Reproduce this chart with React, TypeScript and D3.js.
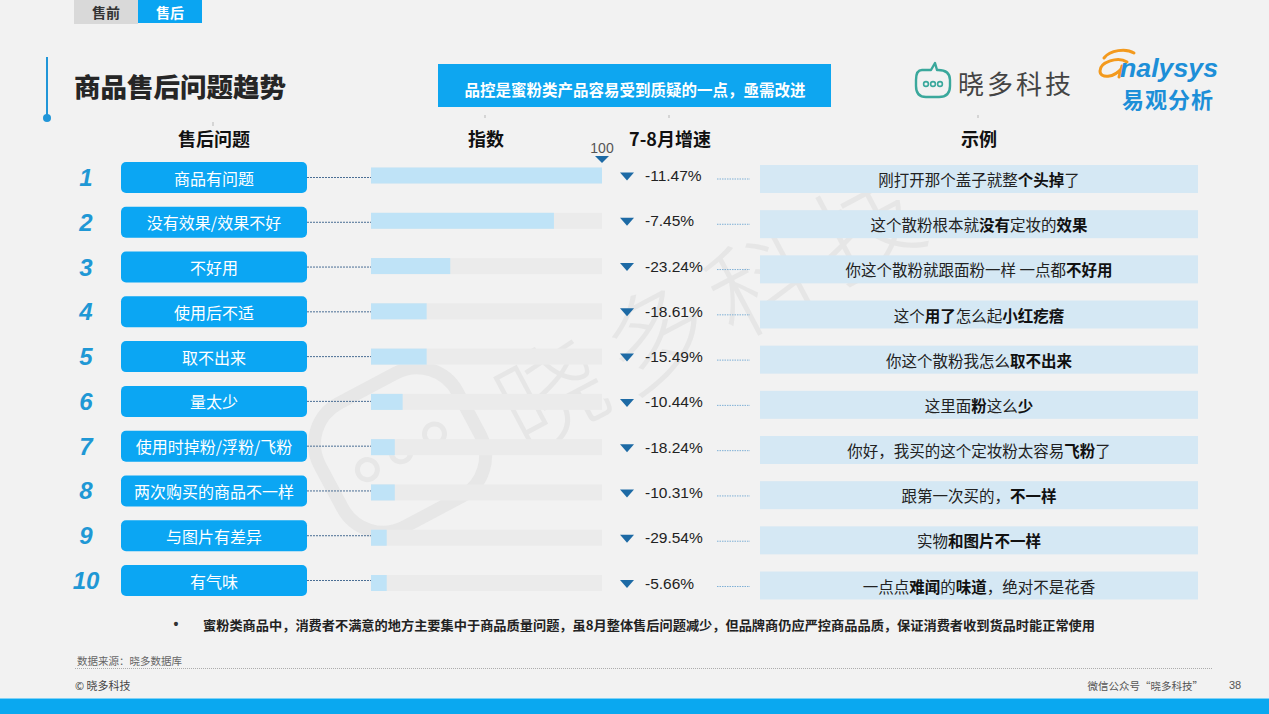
import React from 'react';
import * as d3 from 'd3';

const ranks = [1, 2, 3, 4, 5, 6, 7, 8, 9, 10];
const categories = ['商品有问题', '没有效果/效果不好', '不好用', '使用后不适', '取不出来', '量太少', '使用时掉粉/浮粉/飞粉', '两次购买的商品不一样', '与图片有差异', '有气味'];
const indexValues = [100, 79.2, 34.3, 24.1, 24.1, 13.7, 10.3, 10.3, 6.8, 6.8];
const growthValues = [-11.47, -7.45, -23.24, -18.61, -15.49, -10.44, -18.24, -10.31, -29.54, -5.66];
const examples = [
  '刚打开那个盖子就整**个头掉**了',
  '这个散粉根本就**没有**定妆的**效果**',
  '你这个散粉就跟面粉一样 一点都**不好用**',
  '这个**用了**怎么起**小红疙瘩**',
  '你这个散粉我怎么**取不出来**',
  '这里面**粉**这么**少**',
  '你好，我买的这个定妆粉太容易**飞粉**了',
  '跟第一次买的，**不一样**',
  '实物**和图片不一样**',
  '一点点**难闻**的**味道**，绝对不是花香',
];
const headers = ['售后问题', '指数', '7-8月增速', '示例'];
const tabs = ['售前', '售后'];
const title = '商品售后问题趋势';
const callout = '品控是蜜粉类产品容易受到质疑的一点，亟需改进';
const note = '蜜粉类商品中，消费者不满意的地方主要集中于商品质量问题，虽8月整体售后问题减少，但品牌商仍应严控商品品质，保证消费者收到货品时能正常使用';
const source = '数据来源：晓多数据库';
const copyright = '© 晓多科技';
const wechat = '微信公众号“晓多科技”';
const pageNo = '38';
const maxLabel = '100';

const CJK = "'Noto Sans CJK SC', 'Noto Sans', sans-serif";
const LAT = "'Liberation Sans', Arial, sans-serif";

function parseRich(s: string) {
  return s.split('**').map((t, i) => ({ t, b: i % 2 === 1 })).filter(p => p.t.length > 0);
}

export default function App() {
  const W = 1269, H = 714;
  const yRow = d3.scalePoint<number>().domain(ranks).range([177.5, 580.5]);
  const yBar = d3.scalePoint<number>().domain(ranks).range([175.5, 583]);
  const yEx = d3.scalePoint<number>().domain(ranks).range([179, 585.5]);
  const x = d3.scaleLinear().domain([0, 100]).range([371, 602]);
  const headerX = [214, 486, 670, 979];

  const tri = (cx: number, cy: number, w: number, h: number) =>
    `M${cx - w / 2},${cy - h / 2}L${cx + w / 2},${cy - h / 2}L${cx},${cy + h / 2}Z`;

  return (
    <svg width={W} height={H} viewBox={`0 0 ${W} ${H}`} style={{ position: 'absolute', left: 0, top: 0, display: 'block' }}>
      <rect x={0} y={0} width={W} height={H} fill="#f2f2f2" />

      {/* watermark */}
      <g>
        <text x={712} y={300} transform="rotate(-28 712 300)" textAnchor="middle" dominantBaseline="central"
          fontFamily={CJK} fontSize={105} fontWeight={300} fill="#e6e6e6" letterSpacing={14}>晓多科技</text>
        <g transform="rotate(-28 400 450)">
          <rect x={322} y={380} width={156} height={140} rx={46} fill="none" stroke="#e7e7e7" strokeWidth={13} />
          <circle cx={362} cy={452} r={10} fill="none" stroke="#e7e7e7" strokeWidth={5} />
          <circle cx={400} cy={452} r={10} fill="none" stroke="#e7e7e7" strokeWidth={5} />
          <circle cx={438} cy={452} r={10} fill="none" stroke="#e7e7e7" strokeWidth={5} />
        </g>
      </g>

      {/* tabs */}
      <rect x={74} y={0} width={64} height={24} fill="#d9d9d9" />
      <rect x={138} y={0} width={64} height={23} fill="#0aa5f2" />
      <text x={106} y={12} textAnchor="middle" dominantBaseline="central" fontFamily={CJK} fontWeight={700} fontSize={14} fill="#333">{tabs[0]}</text>
      <text x={170} y={12} textAnchor="middle" dominantBaseline="central" fontFamily={CJK} fontWeight={700} fontSize={14} fill="#fff">{tabs[1]}</text>

      {/* title */}
      <line x1={47} y1={57} x2={47} y2={118} stroke="#2196d8" strokeWidth={2} />
      <circle cx={47} cy={118} r={4} fill="#2196d8" />
      <text x={74} y={85} dominantBaseline="central" fontFamily={CJK} fontWeight={900} fontSize={26.5} fill="#262626">{title}</text>

      {/* callout */}
      <rect x={438} y={64} width={393} height={43} fill="#0ea6f0" />
      <text x={635} y={89} textAnchor="middle" dominantBaseline="central" fontFamily={CJK} fontWeight={700} fontSize={15.5} fill="#fff">{callout}</text>

      {/* xiaoduo logo */}
      <g>
        <path d="M922,70 L931,70 L935,63 L937,70 L938,70 Q950,70 950,80 L950,86 Q950,97 939,97 L926,97 Q916,97 916,86 L916,80 Q916,70 922,70 Z" fill="none" stroke="#3aa89c" strokeWidth={2.4} strokeLinejoin="round" />
        <circle cx={926} cy={84} r={2.4} fill="none" stroke="#3aa89c" strokeWidth={1.6} />
        <circle cx={933} cy={84} r={2.4} fill="none" stroke="#3aa89c" strokeWidth={1.6} />
        <circle cx={940} cy={84} r={2.4} fill="none" stroke="#3aa89c" strokeWidth={1.6} />
        <text x={958} y={82} dominantBaseline="central" fontFamily={CJK} fontSize={26} fontWeight={400} fill="#444" letterSpacing={3}>晓多科技</text>
      </g>

      {/* analysys logo */}
      <g>
        <path d="M1127,62 C1118,56 1100,62 1100,71 C1100,79 1114,78 1122,68 M1122,66 L1119,77 M1104,58 C1110,50 1126,48 1134,53" fill="none" stroke="#f39a1e" strokeWidth={3} strokeLinecap="round" />
        <text x={1120} y={77} fontFamily={LAT} fontStyle="italic" fontWeight={700} fontSize={26} fill="#1d8fd8" textLength={98} lengthAdjust="spacingAndGlyphs">nalysys</text>
        <text x={1168} y={98} textAnchor="middle" dominantBaseline="central" fontFamily={CJK} fontWeight={700} fontSize={22} fill="#1d8fd8" letterSpacing={1}>易观分析</text>
      </g>

      {/* headers */}
      {headers.map((h, i) => (
        <g key={h}>
          <line x1={headerX[i] - 1} x2={headerX[i] - 1} y1={i === 0 ? 122 : 115} y2={i === 0 ? 126 : 118} stroke="#aaa" strokeWidth={0.8} />
          <text x={headerX[i]} y={138} textAnchor="middle" dominantBaseline="central" fontFamily={CJK} fontWeight={700} fontSize={18} fill="#111">{h}</text>
        </g>
      ))}

      {/* max marker */}
      <text x={x(100)} y={148} textAnchor="middle" dominantBaseline="central" fontFamily={LAT} fontSize={14} fill="#555">{maxLabel}</text>
      <path d={tri(x(100), 159.5, 14, 7)} fill="#1d6aa5" />

      {/* rows */}
      {ranks.map((r, i) => {
        const yc = yRow(r) as number;
        const yb = yBar(r) as number;
        const ye = yEx(r) as number;
        const g = growthValues[i];
        return (
          <g key={r}>
            <text x={86} y={yc} textAnchor="middle" dominantBaseline="central" fontFamily={LAT} fontStyle="italic" fontWeight={700} fontSize={24} fill="#1f98d5">{r}</text>
            <rect x={121} y={yc - 15.5} width={186} height={31} rx={5} fill="#0ba6f3" />
            <text x={214} y={yc} textAnchor="middle" dominantBaseline="central" fontFamily={CJK} fontSize={16} fill="#fff">{categories[i]}</text>
            <line x1={307} x2={x(0)} y1={yc} y2={yc} stroke="#4a6e94" strokeWidth={1} strokeDasharray="2,1" />
            <rect x={x(0)} y={yb - 8} width={x(100) - x(0)} height={16} fill="#ebebeb" />
            <rect x={x(0)} y={yb - 8} width={x(indexValues[i]) - x(0)} height={16} fill="#bfe3f7" />
            <path d={tri(627, yb + 1, 14, 8)} fill={g < 0 ? '#1d6aa5' : '#d33'} />
            <text x={645} y={yb} dominantBaseline="central" fontFamily={LAT} fontSize={15.5} fill="#222">{g.toFixed(2) + '%'}</text>
            <line x1={717} x2={750} y1={yb + 3.5} y2={yb + 3.5} stroke="#7fb0d6" strokeWidth={1} strokeDasharray="1.5,1" />
            <rect x={760} y={ye - 14} width={438} height={28} fill="#d5e8f4" />
            <text x={979} y={ye} textAnchor="middle" dominantBaseline="central" fontFamily={CJK} fontSize={15.5} fill="#222">
              {parseRich(examples[i]).map((p, k) => (
                <tspan key={k} fontWeight={p.b ? 700 : 400} fill={p.b ? '#111' : '#222'}>{p.t}</tspan>
              ))}
            </text>
          </g>
        );
      })}

      {/* note */}
      <text x={176} y={624} textAnchor="middle" dominantBaseline="central" fontFamily={LAT} fontWeight={700} fontSize={14} fill="#333">•</text>
      <text x={203} y={624} dominantBaseline="central" fontFamily={CJK} fontWeight={700} fontSize={13} fill="#222" textLength={892} lengthAdjust="spacingAndGlyphs">{note}</text>

      {/* footer */}
      <text x={77} y={660} dominantBaseline="central" fontFamily={CJK} fontSize={10.5} fill="#666">{source}</text>
      <line x1={75} x2={1212} y1={668.5} y2={668.5} stroke="#999" strokeWidth={0.8} strokeDasharray="1,1" />
      <text x={75} y={685} dominantBaseline="central" fontFamily={CJK} fontSize={11} fill="#444">{copyright}</text>
      <text x={1203} y={685} textAnchor="end" dominantBaseline="central" fontFamily={CJK} fontSize={10.5} fill="#555">{wechat}</text>
      <text x={1235} y={685} textAnchor="middle" dominantBaseline="central" fontFamily={LAT} fontSize={11} fill="#555">{pageNo}</text>
      <rect x={0} y={698} width={W} height={16} fill="#0aa8f0" />
      <line x1={0} x2={W} y1={698.5} y2={698.5} stroke="#7fd2f7" strokeWidth={1} />
    </svg>
  );
}
